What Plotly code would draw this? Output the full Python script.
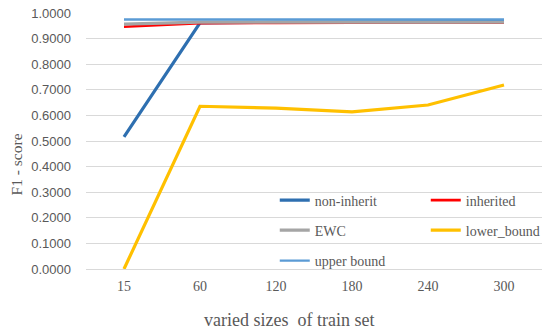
import plotly.graph_objects as go

# train-set sizes on the category axis
sizes = ["15", "60", "120", "180", "240", "300"]

# F1 scores per method
non_inherit = [0.516, 0.962, 0.964, 0.966, 0.966, 0.967]
inherited = [0.947, 0.961, 0.962, 0.964, 0.964, 0.963]
ewc = [0.957, 0.965, 0.965, 0.966, 0.965, 0.965]
lower_bound = [0.0, 0.636, 0.629, 0.614, 0.641, 0.719]
upper_bound = [0.975, 0.975, 0.975, 0.975, 0.975, 0.975]

y_ticks = [0.0, 0.1, 0.2, 0.3, 0.4, 0.5, 0.6, 0.7, 0.8, 0.9, 1.0]

# name, values, colour, width, legend id, legend anchor (px from left, px from top)
series = [
    ("non-inherit", non_inherit, "#2e6fb0", 3.2, "legend", (276, 200.5)),
    ("inherited", inherited, "#ff0000", 2.6, "legend2", (428, 200.5)),
    ("EWC", ewc, "#a5a5a5", 3.2, "legend3", (276, 230.5)),
    ("lower_bound", lower_bound, "#ffc000", 3.2, "legend4", (428, 230.5)),
    ("upper bound", upper_bound, "#5b9bd5", 2.4, "legend5", (276, 261)),
]

L, T, R, B, W, H = 86, 13, 0, 61, 545, 330
pw, ph = W - L - R, H - T - B

fig = go.Figure()
serif = "Liberation Serif"
grey = "#595959"
legends = {}
for name, vals, color, width, leg, (lx, ly) in series:
    fig.add_trace(go.Scatter(
        x=sizes, y=vals, mode="lines", name=name,
        line=dict(color=color, width=width),
        legend=leg,
    ))
    legends[leg] = dict(
        x=(lx - L) / pw, y=(H - B - ly) / ph,
        xanchor="left", yanchor="middle",
        orientation="h",
        font=dict(family=serif, size=14, color=grey),
        bgcolor="rgba(0,0,0,0)", borderwidth=0,
    )

# axis titles placed in paper pixels
x_title_pos = (290, 320)
y_title_pos = (16, 164)

fig.update_layout(
    width=W, height=H,
    margin=dict(l=L, r=R, t=T, b=B),
    paper_bgcolor="white", plot_bgcolor="white",
    showlegend=True,
    **legends,
    xaxis=dict(
        type="category", range=[-0.5, 5.5],
        showgrid=False, zeroline=False, showline=False, ticks="",
        tickfont=dict(family=serif, size=14, color=grey),
        ticklabelstandoff=7,
    ),
    yaxis=dict(
        range=[0, 1.0005], tickvals=y_ticks,
        ticktext=[f"{v:.4f}" for v in y_ticks],
        showgrid=True, gridcolor="#d9d9d9", gridwidth=1,
        zeroline=True, zerolinecolor="#d9d9d9", zerolinewidth=1,
        showline=False, ticks="", ticklabelstandoff=14,
        tickfont=dict(family="Liberation Sans", size=13, color=grey),
    ),
    annotations=[
        dict(text="varied sizes&nbsp; of train set", showarrow=False,
             xref="paper", yref="paper",
             x=(x_title_pos[0] - L) / pw, y=(H - B - x_title_pos[1]) / ph,
             xanchor="center", yanchor="middle",
             font=dict(family=serif, size=18, color=grey)),
        dict(text="F1 - score", showarrow=False, textangle=-90,
             xref="paper", yref="paper",
             x=(y_title_pos[0] - L) / pw, y=(H - B - y_title_pos[1]) / ph,
             xanchor="center", yanchor="middle",
             font=dict(family=serif, size=15.5, color=grey)),
    ],
)

fig.write_html("out.html")
